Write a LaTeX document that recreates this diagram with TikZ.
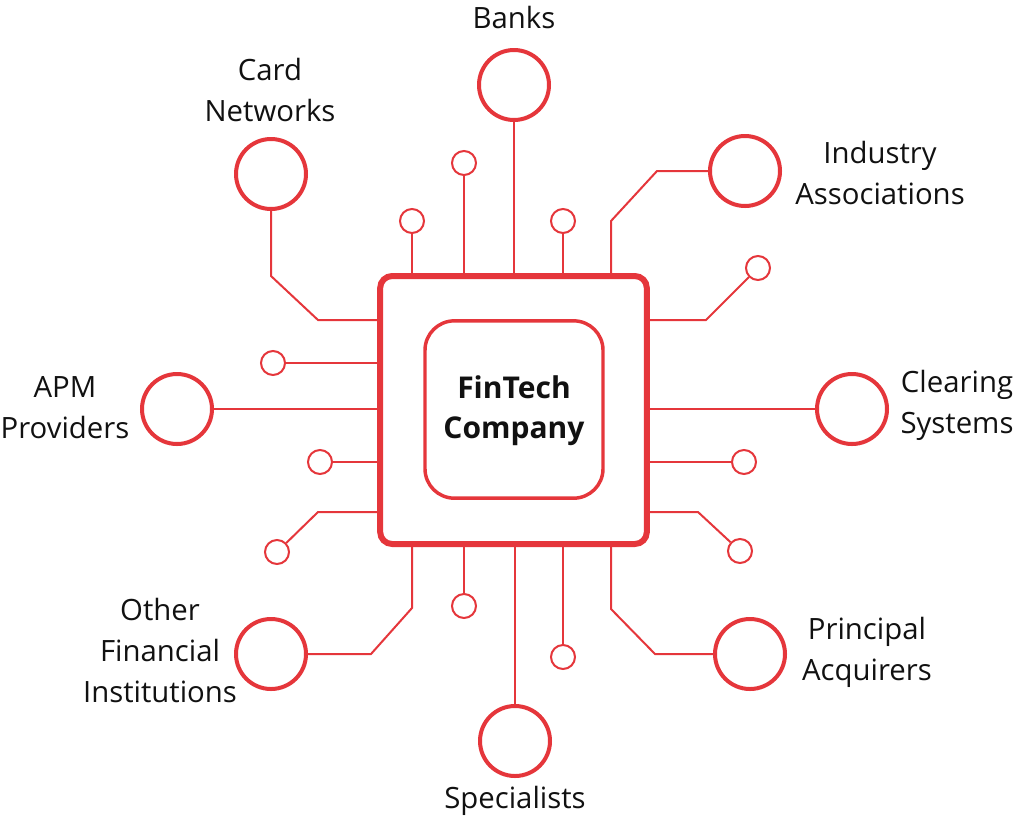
\documentclass[tikz,border=0pt]{standalone}
\usepackage{fontspec}
\setmainfont{Open Sans}
\usepackage{xcolor}
\usepackage{tikz}
\definecolor{wirered}{HTML}{E5363B}
\definecolor{ink}{HTML}{111111}
\tikzset{
  wire/.style={draw=wirered, line width=1.5pt},
  chipbox/.style={draw=wirered, line width=4.5pt, rounded corners=9pt, minimum width=200pt, minimum height=201pt},
  corebox/.style={draw=wirered, line width=2.6pt, rounded corners=22pt, minimum width=133.5pt, minimum height=133pt},
  hub/.style={circle, draw=wirered, line width=3pt, fill=white, minimum size=52.5pt, inner sep=0pt},
  pin/.style={circle, draw=wirered, line width=1.5pt, fill=white, minimum size=18pt, inner sep=0pt},
  lab/.style={text=ink, align=center, anchor=base, font=\fontsize{22}{30.5}\selectfont},
  core/.style={text=ink, align=center, anchor=base, font=\fontsize{22.5}{30}\selectfont\bfseries},
}

\begin{document}
\begin{tikzpicture}[x=0.75pt, y=-0.75pt]
  \useasboundingbox (0,0) rectangle (1024,819);

  % chip
  \node[chipbox] (chip) at (513.5,410) {};
  \node[corebox] (core) at (514,409.5) {};
  \node[core] (coretxt) at (514,438) {FinTech\\Company};

  % main partners
  \node[hub] (banks) at (514,85) {};
  \node[hub] (card) at (271,174) {};
  \node[hub] (assoc) at (745,171) {};
  \node[hub] (apm) at (177,409) {};
  \node[hub] (clear) at (852,409) {};
  \node[hub] (otherfi) at (271,654) {};
  \node[hub] (spec) at (515,741) {};
  \node[hub] (acq) at (750,654) {};

  % small pins
  \node[pin] (t1) at (412,221) {};
  \node[pin] (t2) at (464,163) {};
  \node[pin] (t3) at (563,221) {};
  \node[pin] (l1) at (273,363) {};
  \node[pin] (l2) at (320,462) {};
  \node[pin] (l3) at (277,552) {};
  \node[pin] (r1) at (758,268) {};
  \node[pin] (r2) at (744,462) {};
  \node[pin] (r3) at (740,551) {};
  \node[pin] (b1) at (464,606) {};
  \node[pin] (b2) at (563,657) {};

  % bends
  \coordinate (cardA) at (271,276);
  \coordinate (cardB) at (318,320);
  \coordinate (assocA) at (657,171);
  \coordinate (assocB) at (611,221);
  \coordinate (l3A) at (318,512);
  \coordinate (r1A) at (706,320);
  \coordinate (r3A) at (698,512);
  \coordinate (ofiA) at (371,654);
  \coordinate (ofiB) at (412,608);
  \coordinate (acqA) at (655,654);
  \coordinate (acqB) at (611,609);

  % wires
  \draw[wire] (banks) -- (chip.north -| banks);
  \draw[wire] (t1) -- (chip.north -| t1);
  \draw[wire] (t2) -- (chip.north -| t2);
  \draw[wire] (t3) -- (chip.north -| t3);
  \draw[wire] (assoc) -- (assocA) -- (assocB) -- (chip.north -| assocB);
  \draw[wire] (card) -- (cardA) -- (cardB) -- (chip.west |- cardB);
  \draw[wire] (l1) -- (chip.west |- l1);
  \draw[wire] (apm) -- (chip.west |- apm);
  \draw[wire] (l2) -- (chip.west |- l2);
  \draw[wire] (l3) -- (l3A) -- (chip.west |- l3A);
  \draw[wire] (r1) -- (r1A) -- (chip.east |- r1A);
  \draw[wire] (clear) -- (chip.east |- clear);
  \draw[wire] (r2) -- (chip.east |- r2);
  \draw[wire] (r3) -- (r3A) -- (chip.east |- r3A);
  \draw[wire] (otherfi) -- (ofiA) -- (ofiB) -- (chip.south -| ofiB);
  \draw[wire] (b1) -- (chip.south -| b1);
  \draw[wire] (spec) -- (chip.south -| spec);
  \draw[wire] (b2) -- (chip.south -| b2);
  \draw[wire] (acq) -- (acqA) -- (acqB) -- (chip.south -| acqB);

  % labels (base = last line)
  \node[lab] (banksl) at (514,28) {Banks};
  \node[lab] (cardl) at (270,121) {Card\\Networks};
  \node[lab] (assocl) at (880,204) {Industry\\Associations};
  \node[lab] (apml) at (65,438) {APM\\Providers};
  \node[lab] (clearl) at (957,433) {Clearing\\Systems};
  \node[lab] (otherfil) at (160,702) {Other\\Financial\\Institutions};
  \node[lab] (specl) at (515,808) {Specialists};
  \node[lab] (acql) at (867,680) {Principal\\Acquirers};
\end{tikzpicture}
\end{document}
